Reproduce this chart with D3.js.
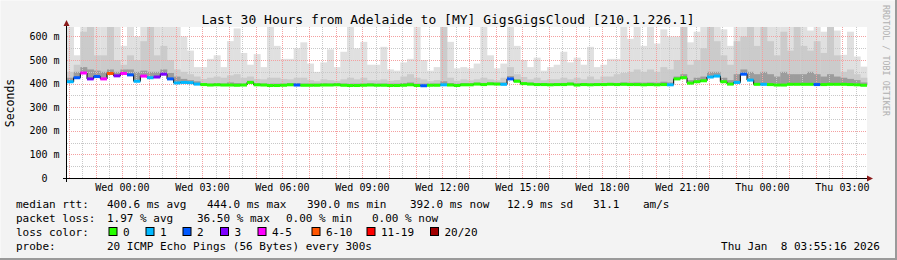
<!DOCTYPE html>
<html>
<head>
<meta charset="utf-8">
<script src="https://cdn.jsdelivr.net/npm/d3@7"></script>
<style>
  body { margin: 0; background: #f3f3f3; }
  svg text { font-family: "DejaVu Sans Mono", monospace; fill: #000; }
</style>
</head>
<body>
<div id="chart"></div>
<script>
// chart data (15 minute columns, values in ms)
const title = "Last 30 Hours from Adelaide to [MY] GigsGigsCloud [210.1.226.1]";
const startTime = new Date(Date.UTC(2026, 0, 6, 21, 55, 16));
const endTime = new Date(Date.UTC(2026, 0, 8, 3, 55, 16));
const stepMinutes = 15;

const median = [
  408,425,445,420,430,420,443,433,443,437,410,432,425,428,440,420,403,405,404,398,
  396,394,395,394,394,393,394,405,395,394,392,392,393,395,394,393,393,393,394,394,
  395,393,392,392,393,394,393,393,392,392,393,395,392,391,393,393,395,394,392,395,
  395,398,396,399,398,397,420,410,400,398,396,396,395,396,396,398,394,396,395,396,
  396,397,396,397,396,396,395,396,395,396,395,420,425,402,408,412,428,432,408,398,
  405,440,415,397,397,396,394,394,397,397,397,397,396,396,397,397,397,396,395,393
];
// lost pings out of 20 per column
const loss = [
  1,2,4,3,2,4,7,3,4,2,1,4,1,3,3,2,1,1,1,1,
  0,0,0,0,0,0,0,0,0,0,0,0,0,0,2,0,0,0,0,0,
  0,0,0,0,0,0,0,0,0,0,0,0,0,2,0,0,1,0,0,0,
  0,0,0,0,0,1,2,0,0,0,0,0,0,0,0,0,0,0,0,0,
  0,0,0,0,0,0,0,0,0,0,1,0,0,0,0,0,1,1,0,0,
  1,2,1,0,1,0,0,0,0,0,0,0,2,0,0,0,0,0,0,0
];
// smoke: top of the dark, middle and light grey bands
const smokeDark = [
  425,450,470,460,455,450,460,450,460,460,450,455,450,450,460,445,430,420,415,410,
  402,400,402,400,405,402,400,412,402,400,400,400,400,402,402,400,400,400,401,400,
  402,400,400,400,400,401,400,400,400,400,402,405,400,400,400,400,410,402,400,402,
  402,404,403,405,404,405,432,418,406,404,402,402,401,402,403,404,401,402,401,402,
  402,403,403,405,404,405,404,405,404,408,405,430,440,415,425,430,450,450,425,415,
  440,460,450,440,450,440,430,450,440,440,440,450,440,430,440,430,425,420,415,405
];
const smokeMid = [
  450,480,620,640,520,520,640,500,480,520,500,580,640,520,560,500,460,450,440,430,
  420,425,430,425,435,440,425,430,420,418,425,425,420,418,425,425,415,410,418,415,
  412,418,425,418,425,414,414,418,412,415,430,440,425,418,410,415,640,425,412,418,
  414,418,425,418,414,425,470,440,428,418,425,414,418,418,425,418,425,418,430,418,
  430,430,440,445,450,460,450,460,450,470,460,500,640,480,500,550,640,580,520,480,
  580,600,640,560,640,580,520,620,540,640,560,540,580,530,640,520,450,460,440,425
];
const smokeMax = [
  640,520,640,640,640,640,640,640,560,640,600,640,640,640,640,640,640,600,540,470,
  470,505,520,470,580,634,530,480,525,470,640,560,505,505,550,575,485,450,490,545,
  470,535,640,549,577,480,480,556,460,455,490,505,640,500,455,470,640,577,465,470,
  465,485,640,520,465,485,640,560,500,470,510,455,470,480,535,490,510,480,556,470,
  480,505,505,640,590,640,560,640,570,630,600,600,640,575,620,640,640,640,630,560,
  640,640,640,640,640,640,640,640,640,640,640,625,640,620,640,625,522,620,515,472
];

const lossBins = ["0", "1", "2", "3", "4-5", "6-10", "11-19", "20/20"];
const lossUpper = [0, 1, 2, 3, 5, 10, 19, 20];
const lossColors = ["#26ff00", "#00b8ff", "#0059ff", "#7e00ff", "#ff00ff", "#ff5500", "#ff0000", "#a10000"];

const rttStats = ["400.6 ms avg", "444.0 ms max", "390.0 ms min", "392.0 ms now", "12.9 ms sd", "31.1", "am/s"];
const lossStats = ["1.97 % avg", "36.50 % max", "0.00 % min", "0.00 % now"];
const probeText = "20 ICMP Echo Pings (56 Bytes) every 300s";
const stampText = "Thu Jan  8 03:55:16 2026";

const W = 897, H = 260;
const svg = d3.select("#chart").append("svg")
  .attr("width", W).attr("height", H);

svg.append("rect").attr("width", W).attr("height", H).attr("fill", "#f3f3f3");
svg.append("path").attr("d", `M0,${H-1}H${W-1}V0`).attr("fill", "none")
  .attr("stroke", "#9a9a9a").attr("stroke-width", 2);
svg.append("path").attr("d", `M0,${H-2}V0H${W-2}`).attr("fill", "none")
  .attr("stroke", "#fdfdfd").attr("stroke-width", 1);

const x = d3.scaleUtc().domain([startTime, endTime]).range([67, 867]);
const y = d3.scaleLinear().domain([0, 640]).range([178, 27]);

// plot background
svg.append("rect").attr("x", 67).attr("y", 27).attr("width", 800).attr("height", 151).attr("fill", "#fff");

const colStart = i => x(d3.utcMinute.offset(startTime, i * stepMinutes));
const colEnd = i => x(d3.utcMinute.offset(startTime, (i + 1) * stepMinutes));

// smoke bands
const bands = [
  { vals: smokeMax, color: "#e0e0e0" },
  { vals: smokeMid, color: "#cbcbcb" },
  { vals: smokeDark, color: "#9c9c9c" }
];
const smoke = svg.append("g");
bands.forEach(b => {
  smoke.selectAll(null).data(median).enter().append("rect")
    .attr("x", (d, i) => colStart(i))
    .attr("width", (d, i) => colEnd(i) - colStart(i) + 0.3)
    .attr("y", (d, i) => y(Math.min(b.vals[i], 640)))
    .attr("height", (d, i) => Math.max(0, y(d) - y(Math.min(b.vals[i], 640))))
    .attr("fill", b.color);
});

// grid
const grid = svg.append("g").attr("stroke-dasharray", "1,1").attr("stroke-width", 1);
const minorX = d3.utcMinute.every(30).range(startTime, endTime);
grid.selectAll(null).data(minorX.filter(t => t.getUTCMinutes() === 30)).enter().append("line")
  .attr("x1", d => Math.round(x(d)) + 0.5).attr("x2", d => Math.round(x(d)) + 0.5)
  .attr("y1", 27).attr("y2", 178).attr("stroke", "#c8c8c8");
const yMinor = y.ticks(13).filter(v => v % 100 !== 0);
grid.selectAll(null).data(yMinor).enter().append("line")
  .attr("x1", 67).attr("x2", 867)
  .attr("y1", d => Math.round(y(d)) + 0.5).attr("y2", d => Math.round(y(d)) + 0.5)
  .attr("stroke", "#c8c8c8");
const majorX = d3.utcHour.range(startTime, endTime);
grid.selectAll(null).data(majorX).enter().append("line")
  .attr("x1", d => Math.round(x(d)) + 0.5).attr("x2", d => Math.round(x(d)) + 0.5)
  .attr("y1", 27).attr("y2", 178).attr("stroke", "#f4a0a0");
const yMajor = y.ticks(7).filter(v => v > 0);
grid.selectAll(null).data(yMajor).enter().append("line")
  .attr("x1", 67).attr("x2", 867)
  .attr("y1", d => Math.round(y(d)) + 0.5).attr("y2", d => Math.round(y(d)) + 0.5)
  .attr("stroke", "#f4a0a0");

// median: black step line with loss-coloured band on top
const pts = [];
median.forEach((m, i) => { pts.push([colStart(i), y(m)]); pts.push([colEnd(i), y(m)]); });
svg.append("path").attr("d", d3.line()(pts)).attr("fill", "none")
  .attr("stroke", "#000").attr("stroke-width", 1);
const lossColor = n => lossColors[lossUpper.findIndex(u => n <= u)];
svg.append("g").selectAll("rect").data(median).enter().append("rect")
  .attr("x", (d, i) => colStart(i))
  .attr("width", (d, i) => colEnd(i) - colStart(i))
  .attr("y", d => y(d) - 1.5).attr("height", 3)
  .attr("fill", (d, i) => lossColor(loss[i]));

// axes
const axisColor = "#000";
svg.append("line").attr("x1", 63).attr("x2", 869).attr("y1", 178.5).attr("y2", 178.5)
  .attr("stroke", axisColor);
svg.append("line").attr("x1", 66.5).attr("x2", 66.5).attr("y1", 182).attr("y2", 24)
  .attr("stroke", axisColor);
svg.append("path").attr("d", "M867,175.5L873,178.5L867,181.5Z").attr("fill", "#8b1a1a");
svg.append("path").attr("d", "M63.5,26L66.5,20L69.5,26Z").attr("fill", "#8b1a1a");

// x tick labels every 3 hours
const labelTimes = d3.utcHour.every(3).range(startTime, endTime);
const fmt = d3.utcFormat("%a %H:%M");
svg.append("g").selectAll("text").data(labelTimes).enter().append("text")
  .attr("x", d => x(d)).attr("y", 191)
  .attr("text-anchor", "middle").attr("font-size", "10px")
  .text(d => fmt(d));

// y tick labels
const yLabel = v => v === 0 ? "0" : v + " m";
svg.append("g").selectAll("text").data(y.ticks(7)).enter().append("text")
  .attr("x", 44.5).attr("y", d => y(d) + 3.5)
  .attr("text-anchor", "middle").attr("font-size", "10px")
  .text(d => yLabel(d));

svg.append("text").attr("transform", "translate(14,103) rotate(-90)")
  .attr("text-anchor", "middle").attr("font-size", "11.5px").text("Seconds");

svg.append("text").attr("x", 448).attr("y", 23.5).attr("text-anchor", "middle")
  .attr("font-size", "13px").text(title);

svg.append("text").attr("transform", "translate(883,5) rotate(90)")
  .attr("font-size", "8.4px").style("fill", "#b0b0b0").text("RRDTOOL / TOBI OETIKER");

// legend
const lf = "11px";
const row = (txt, xx, yy, anchor) => svg.append("text").attr("x", xx).attr("y", yy)
  .attr("font-size", lf).attr("text-anchor", anchor || "start").attr("xml:space", "preserve").text(txt);

row("median rtt:", 16, 208);
[107, 207, 307, 410, 507, 593, 643].forEach((xx, i) => row(rttStats[i], xx, 208));
row("packet loss:", 16, 222);
[107, 197, 286, 372].forEach((xx, i) => row(lossStats[i], xx, 222));
row("loss color:", 16, 236);
const swX = [108.5, 145.5, 182.5, 220, 257.5, 311.5, 366.5, 430];
lossBins.forEach((b, i) => {
  svg.append("rect").attr("x", swX[i] + 0.5).attr("y", 227.5).attr("width", 8).attr("height", 8)
    .attr("fill", lossColors[i]).attr("stroke", "#000");
  row(b, swX[i] + 14.5, 236);
});
row("probe:", 16, 250);
row(probeText, 107, 250);
row(stampText, 880, 250, "end");
</script>
</body>
</html>
